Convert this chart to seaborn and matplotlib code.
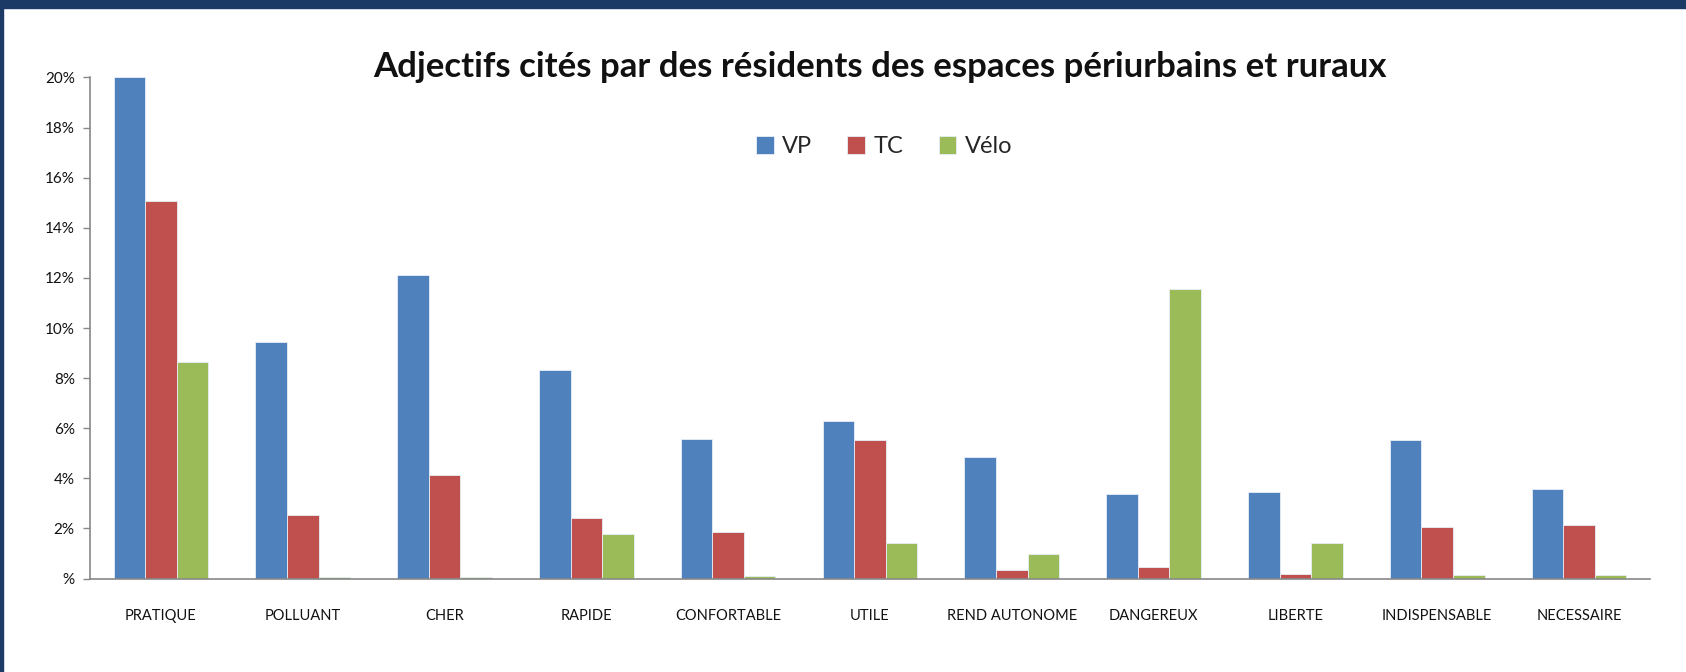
import pandas as pd
import matplotlib.pyplot as plt
import seaborn as sns
from matplotlib.patches import Rectangle
from matplotlib.ticker import FuncFormatter, FixedLocator

# ==========================================
# DATA
# ==========================================

adjectifs = ["PRATIQUE", "POLLUANT", "CHER", "RAPIDE", "CONFORTABLE", "UTILE",
             "REND AUTONOME", "DANGEREUX", "LIBERTE", "INDISPENSABLE", "NECESSAIRE"]
modes = ["VP", "TC", "Vélo"]

vp = [20.0, 9.44, 12.1, 8.31, 5.59, 6.27, 4.87, 3.39, 3.44, 5.53, 3.59]
tc = [15.07, 2.55, 4.14, 2.4, 1.84, 5.55, 0.36, 0.48, 0.2, 2.05, 2.15]
velo = [8.65, 0.06, 0.06, 1.79, 0.1, 1.44, 0.99, 11.55, 1.43, 0.16, 0.16]

colors = ["#4F81BD", "#C0504D", "#9BBB59"]

df = pd.DataFrame({
    "adjectif": adjectifs * 3,
    "mode": [m for m in modes for _ in adjectifs],
    "part": [v / 100 for v in vp + tc + velo],
})

# ==========================================
# PLOT
# ==========================================

sns.set_style("white")
plt.rcParams['font.family'] = ['Lato', 'DejaVu Sans']

fig = plt.figure(figsize=(16.86, 6.72), dpi=100)
ax = fig.add_axes([0.0534, 0.139, 0.9252, 0.7458])

sns.barplot(
    data=df, x="adjectif", y="part", hue="mode",
    order=adjectifs, hue_order=modes, palette=colors, saturation=1,
    width=0.667, gap=0, edgecolor="#e8eef7", linewidth=0.6,
    ax=ax
)

ax.set_xlim(-0.5, len(adjectifs) - 0.5)
ax.set_ylim(0, 0.20)
ax.set_yticks([i / 100 for i in range(0, 21, 2)])
ax.yaxis.set_major_formatter(FuncFormatter(lambda v, p: "%" if v == 0 else f"{round(v * 100)}%"))

ax.set_xlabel("")
ax.set_ylabel("")
ax.xaxis.set_minor_locator(FixedLocator([i - 0.5 for i in range(len(adjectifs) + 1)]))
ax.tick_params(axis="x", which="major", length=0, pad=22, labelsize=10.5, colors="#111111")
ax.tick_params(axis="x", which="minor", length=6, width=1, color="#888888", direction="out")
ax.tick_params(axis="y", length=5, width=1, color="#888888", direction="out",
               left=True, labelsize=11, pad=6, labelcolor="#111111")

for side in ["top", "right"]:
    ax.spines[side].set_visible(False)
for side in ["left", "bottom"]:
    ax.spines[side].set_color("#888888")
    ax.spines[side].set_linewidth(1.2)

ax.legend(
    loc="upper center", bbox_to_anchor=(0.509, 0.925), ncol=3, frameon=False,
    fontsize=17, handlelength=0.75, handleheight=0.75, handletextpad=0.35,
    columnspacing=1.5
)

fig.text(0.522, 0.9, "Adjectifs cités par des résidents des espaces périurbains et ruraux",
         ha="center", va="center", fontsize=25, fontweight="bold", color="#111111")

# dark frame of the slide
fig.patches.append(Rectangle((0, 1 - 8 / 672), 1, 8 / 672, transform=fig.transFigure,
                             color="#1c3a66", zorder=10))
fig.patches.append(Rectangle((0, 0), 3 / 1686, 1, transform=fig.transFigure,
                             color="#1c3a66", zorder=10))

fig.savefig("out.png", dpi=100)
